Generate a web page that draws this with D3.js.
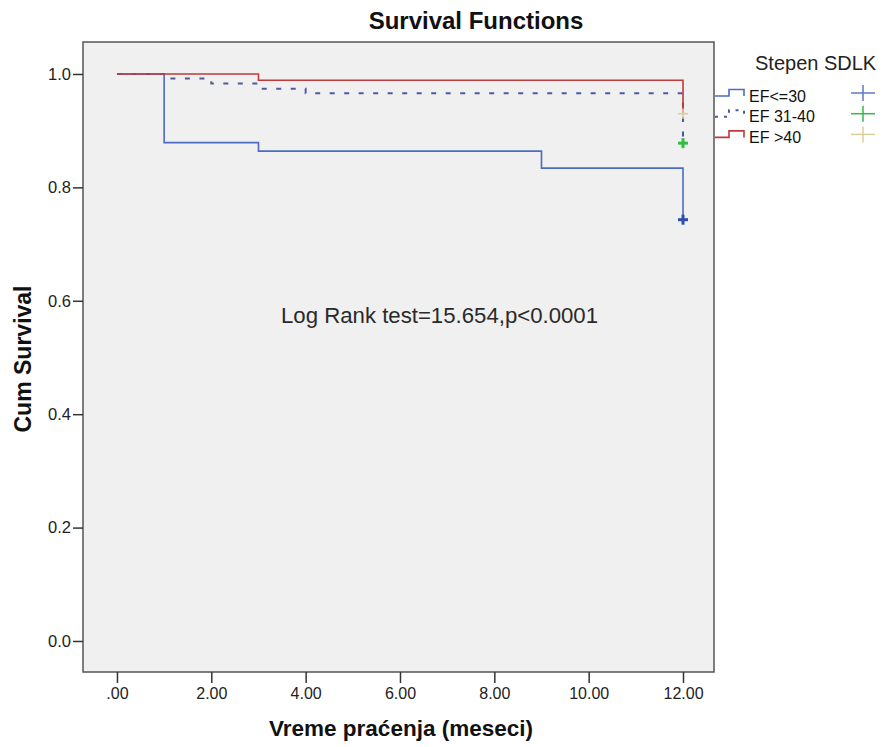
<!DOCTYPE html>
<html>
<head>
	<title>Survival Functions</title>
	<script type="text/javascript" src="https://cdnjs.cloudflare.com/ajax/libs/d3/7.8.5/d3.min.js"></script>
	<style>
		body { margin: 0; background: #fff; }
		text { font-family: Arial, "Liberation Sans", sans-serif; }
	</style>
</head>
<body>
	<svg id="km" width="884" height="747"></svg>
	<script type="text/javascript">
		// Kaplan-Meier steps per group (time in months, cumulative survival)
		var ef30Times = [0, 1, 3, 9, 12];
		var ef30Surv = [1.0, 0.879, 0.864, 0.834, 0.743];
		var ef3140Times = [0, 1, 2, 3, 4, 12];
		var ef3140Surv = [1.0, 0.992, 0.983, 0.974, 0.966, 0.878];
		var ef40Times = [0, 3, 12];
		var ef40Surv = [1.0, 0.989, 0.930];

		// censored cases at end of follow-up
		var censorTime = 12;

		var groupNames = ["EF<=30", "EF 31-40", "EF >40"];
		var xTicks = [0, 2, 4, 6, 8, 10, 12];
		var xTickLabels = [".00", "2.00", "4.00", "6.00", "8.00", "10.00", "12.00"];
		var yTicks = [0, 0.2, 0.4, 0.6, 0.8, 1.0];
		var yTickLabels = ["0.0", "0.2", "0.4", "0.6", "0.8", "1.0"];
		var annotation = "Log Rank test=15.654,p<0.0001";

		var svg = d3.select("#km");

		var plotL = 83, plotR = 714, plotT = 42, plotB = 672;

		var x = d3.scaleLinear().domain([-0.72, 12.657]).range([plotL, plotR]);
		var y = d3.scaleLinear().domain([-0.0547, 1.0564]).range([plotB, plotT]);

		var groups = [
			{times: ef3140Times, surv: ef3140Surv, line: "#4f5a9e", dash: "5,9.5", width: 2, cross: "#33bb44", crossW: 3},
			{times: ef30Times, surv: ef30Surv, line: "#4b6cc2", dash: null, width: 1.6, cross: "#2f4fa8", crossW: 3},
			{times: ef40Times, surv: ef40Surv, line: "#c0393b", dash: null, width: 1.6, cross: "#d8cf9a", crossW: 1.6}
		];

		// plot frame
		svg.append("rect")
			.attr("x", plotL).attr("y", plotT)
			.attr("width", plotR - plotL).attr("height", plotB - plotT)
			.attr("fill", "#f0f0f0")
			.attr("stroke", "#555").attr("stroke-width", 1.5);

		// title
		svg.append("text")
			.attr("x", 476).attr("y", 29)
			.attr("text-anchor", "middle")
			.attr("font-size", 24).attr("font-weight", "bold")
			.attr("fill", "#111")
			.text("Survival Functions");

		// axes
		var xAxis = d3.axisBottom(x)
			.tickValues(xTicks)
			.tickFormat(function (d, i) { return xTickLabels[i]; })
			.tickSize(11).tickSizeOuter(0).tickPadding(5);
		var gx = svg.append("g").attr("transform", "translate(0," + plotB + ")").call(xAxis);
		gx.select(".domain").remove();
		gx.selectAll("line").attr("stroke", "#333").attr("stroke-width", 1.5);
		gx.selectAll("text").attr("font-size", 16).attr("fill", "#222")
			.style("font-family", "Arial, 'Liberation Sans', sans-serif");

		var yAxis = d3.axisLeft(y)
			.tickValues(yTicks)
			.tickFormat(function (d, i) { return yTickLabels[i]; })
			.tickSize(10).tickSizeOuter(0).tickPadding(2);
		var gy = svg.append("g").attr("transform", "translate(" + plotL + ",0)").call(yAxis);
		gy.select(".domain").remove();
		gy.selectAll("line").attr("stroke", "#333").attr("stroke-width", 1.5);
		gy.selectAll("text").attr("font-size", 16.5).attr("fill", "#222")
			.style("font-family", "Arial, 'Liberation Sans', sans-serif");

		// axis titles
		svg.append("text")
			.attr("x", 401).attr("y", 736)
			.attr("text-anchor", "middle")
			.attr("font-size", 22.5).attr("font-weight", "bold").attr("fill", "#111")
			.text("Vreme praćenja (meseci)");

		svg.append("text")
			.attr("transform", "translate(31," + ((plotT + plotB) / 2 + 2) + ") rotate(-90)")
			.attr("text-anchor", "middle")
			.attr("font-size", 23).attr("font-weight", "bold").attr("fill", "#111")
			.text("Cum Survival");

		// survival step curves
		var line = d3.line()
			.x(function (d) { return x(d[0]); })
			.y(function (d) { return y(d[1]); })
			.curve(d3.curveStepAfter);

		groups.forEach(function (g) {
			var pts = g.times.map(function (t, i) { return [t, g.surv[i]]; });
			var p = svg.append("path")
				.attr("d", line(pts))
				.attr("fill", "none")
				.attr("stroke", g.line)
				.attr("stroke-width", g.width);
			if (g.dash) p.attr("stroke-dasharray", g.dash);
		});

		// censor marks
		function cross(sel, cx, cy, hw, hh, color, w) {
			sel.append("line").attr("x1", cx - hw).attr("x2", cx + hw)
				.attr("y1", cy).attr("y2", cy)
				.attr("stroke", color).attr("stroke-width", w);
			sel.append("line").attr("x1", cx).attr("x2", cx)
				.attr("y1", cy - hh).attr("y2", cy + hh)
				.attr("stroke", color).attr("stroke-width", w);
		}
		groups.forEach(function (g) {
			cross(svg, x(censorTime), y(g.surv[g.surv.length - 1]), 5, 5, g.cross, g.crossW);
		});

		svg.append("text")
			.attr("x", 281).attr("y", 323)
			.attr("font-size", 22.2).attr("fill", "#2a2a2a")
			.text(annotation);

		// legend
		svg.append("text")
			.attr("x", 755).attr("y", 70)
			.attr("font-size", 20).attr("fill", "#222")
			.text("Stepen SDLK");

		var legendOrder = [1, 0, 2];
		legendOrder.forEach(function (gi, i) {
			var g = groups[gi];
			var ly = 96 + i * 20.7;
			var sym = svg.append("path")
				.attr("d", "M715," + ly + "H729V" + (ly - 6.5) + "H744V" + ly)
				.attr("fill", "none")
				.attr("stroke", g.line)
				.attr("stroke-width", g.dash ? 2 : 1.6);
			if (g.dash) sym.attr("stroke-dasharray", "3,6");
			svg.append("text")
				.attr("x", 749).attr("y", ly + 5.5)
				.attr("font-size", 16).attr("fill", "#111")
				.text(groupNames[i]);
			cross(svg, 863, ly - 3, 12, 8, i == 0 ? "#5b78c8" : g.cross, 1.5);
		});
	</script>
</body>
</html>
